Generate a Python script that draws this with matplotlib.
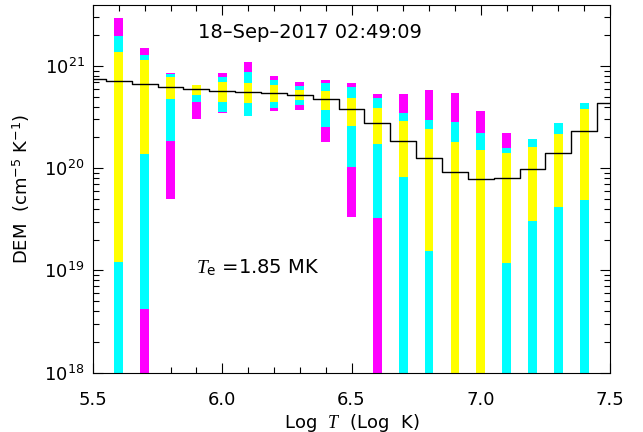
import numpy as np
import matplotlib
matplotlib.use("Agg")
import matplotlib.pyplot as plt
from matplotlib.ticker import MultipleLocator, LogLocator

plt.rcParams['font.family'] = ['DejaVu Sans']
plt.rcParams['mathtext.fontset'] = 'custom'
plt.rcParams['mathtext.rm'] = 'DejaVu Sans'
plt.rcParams['mathtext.it'] = 'Liberation Serif:italic'
plt.rcParams['axes.unicode_minus'] = True

# log T bins of the DEM bars
logt = [5.6, 5.7, 5.8, 5.9, 6.0, 6.1, 6.2, 6.3, 6.4, 6.5,
        6.6, 6.7, 6.8, 6.9, 7.0, 7.1, 7.2, 7.3, 7.4]

# log10 DEM ranges (17 = below the plot floor)
mag_hi = [21.47, 21.175, 20.93, 20.81, 20.932, 21.036, 20.90, 20.844, 20.86, 20.83,
          20.724, 20.724, 20.76, 20.73, 20.562, 20.348, 20.286, 20.44, 20.637]
mag_lo = [17, 17, 19.70, 20.478, 20.536, 20.513, 20.56, 20.566, 20.26, 19.524,
          17, 17, 17, 17, 17, 17, 17, 17, 17]
cy_hi = [21.29, 21.11, 20.92, 20.81, 20.893, 20.94, 20.86, 20.80, 20.83, 20.796,
         20.686, 20.536, 20.471, 20.449, 20.348, 20.20, 20.286, 20.44, 20.637]
cy_lo = [17, 18.62, 20.267, 20.644, 20.546, 20.513, 20.585, 20.617, 20.40, 20.007,
         19.514, 17, 17, 17, 17, 17, 17, 17, 17]
ye_hi = [21.14, 21.055, 20.887, 20.81, 20.84, 20.83, 20.81, 20.763, 20.75, 20.69,
         20.585, 20.459, 20.38, 20.26, 20.179, 20.147, 20.208, 20.338, 20.578]
ye_lo = [19.08, 20.14, 20.676, 20.715, 20.65, 20.64, 20.65, 20.666, 20.566, 20.41,
         20.234, 19.913, 19.189, 17, 17, 19.076, 19.486, 19.62, 19.69]

# best-fit DEM step curve
step_t = [5.5, 5.6, 5.7, 5.8, 5.9, 6.0, 6.1, 6.2, 6.3, 6.4, 6.5,
          6.6, 6.7, 6.8, 6.9, 7.0, 7.1, 7.2, 7.3, 7.4, 7.5]
step_v = [20.868, 20.851, 20.819, 20.79, 20.77, 20.754, 20.744, 20.734, 20.712, 20.673, 20.578,
          20.44, 20.27, 20.098, 19.962, 19.894, 19.904, 19.994, 20.15, 20.367, 20.634]

fig = plt.figure(figsize=(6.43, 4.32), dpi=100)
ax = fig.add_axes([93 / 643, 1 - 372.7 / 432, (610 - 93) / 643, (372.7 - 4.5) / 432])

w = 0.034
for lo, hi, col in [(mag_lo, mag_hi, '#ff00ff'), (cy_lo, cy_hi, '#00ffff'), (ye_lo, ye_hi, '#ffff00')]:
    lo_v = 10.0 ** np.array(lo)
    hi_v = 10.0 ** np.array(hi)
    ax.bar(logt, hi_v - lo_v, bottom=lo_v, width=w, color=col, linewidth=0, zorder=2)

ax.plot(step_t, 10.0 ** np.array(step_v), drawstyle='steps-mid', color='black', lw=1.0, zorder=3)

ax.set_yscale('log')
ax.set_xlim(5.5, 7.5)
ax.set_ylim(1e18, 10 ** 21.6)
ax.xaxis.set_major_locator(MultipleLocator(0.5))
ax.xaxis.set_minor_locator(MultipleLocator(0.1))
ax.yaxis.set_major_locator(LogLocator(base=10))
ax.yaxis.set_minor_locator(LogLocator(base=10, subs=np.arange(2, 10)))
ax.xaxis.set_major_formatter(matplotlib.ticker.FormatStrFormatter('%.1f'))
ax.tick_params(which='both', direction='in', top=True, right=True, labelsize=13, width=0.8)
ax.tick_params(which='major', length=7)
ax.tick_params(which='minor', length=4)
ax.tick_params(axis='x', pad=13)
ax.tick_params(axis='y', pad=6)
for s in ax.spines.values():
    s.set_linewidth(0.8)

ax.set_xlabel(r'Log  $\mathit{T}$  (Log  K)', fontsize=13, labelpad=2)
ax.set_ylabel(r'DEM  (cm$^{\mathdefault{-5}}$ K$^{\mathdefault{-1}}$)', fontsize=13, labelpad=9)

ax.text(0.42, 0.925, '18\u2013Sep\u20132017 02:49:09', transform=ax.transAxes,
        ha='center', va='center', fontsize=14)
ax.text(5.9, 10 ** 19.03, r'$\mathit{T}_{\mathdefault{e}}$ =1.85 MK', fontsize=14,
        ha='left', va='center')

fig.savefig('out.png', dpi=100)
